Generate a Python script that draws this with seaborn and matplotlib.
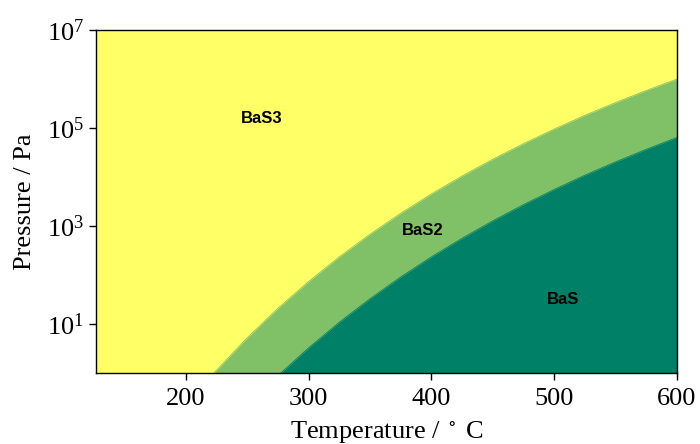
import matplotlib
matplotlib.use("Agg")
import matplotlib as mpl
import matplotlib.pyplot as plt
import numpy as np
import seaborn as sns

# Phase boundaries (temperature in degC, equilibrium S2 pressure in Pa)
t_bas3_bas2 = [223, 250, 275, 300, 325, 350, 375, 400, 425, 450, 475, 500, 525, 550, 575, 600]
p_bas3_bas2 = [1.0, 5.2, 20.8, 73.5, 234, 679, 1815, 4510, 1.05e4, 2.31e4, 4.80e4,
               9.53e4, 1.82e5, 3.32e5, 5.86e5, 1.0e6]

t_bas2_bas = [277.5, 300, 325, 350, 375, 400, 425, 450, 475, 500, 525, 550, 575, 600]
p_bas2_bas = [1.0, 3.24, 10.8, 32.7, 90.8, 234, 562, 1274, 2729, 5570, 1.09e4,
              2.04e4, 3.68e4, 6.43e4]

phases = ["BaS3", "BaS2", "BaS"]
label_t = [262, 393, 507]
label_p = [1.6e5, 800, 31]

t_range = [126.85, 600]
p_range = [1, 1e7]

sns.set_theme(style="ticks")
plt.rcParams["font.family"] = ["Liberation Serif", "DejaVu Serif"]
plt.rcParams["mathtext.fontset"] = "stix"

cmap = mpl.colormaps["summer"]
colors = {"BaS3": cmap(1.0), "BaS2": cmap(0.5), "BaS": cmap(0.0)}

fig = plt.figure(figsize=(7.0, 4.44), dpi=100)
ax = fig.add_axes([0.137, 0.160, 0.830, 0.772])
ax.set_yscale("log")

# sulfur-rich phase fills the whole field, lower sulfides are layered beneath
ax.set_facecolor(colors["BaS3"])
ax.fill_between(t_bas3_bas2, 0.1, p_bas3_bas2, color=colors["BaS2"], lw=0)
ax.fill_between(t_bas2_bas, 0.1, p_bas2_bas, color=colors["BaS"], lw=0)
sns.lineplot(x=t_bas3_bas2, y=p_bas3_bas2, ax=ax, color=colors["BaS2"], lw=0.6)
sns.lineplot(x=t_bas2_bas, y=p_bas2_bas, ax=ax, color=colors["BaS"], lw=0.6)

for name, t, p in zip(phases, label_t, label_p):
    ax.text(t, p, name, ha="center", va="center", fontsize=12, fontweight="bold",
            family=["Liberation Sans", "DejaVu Sans"], color="black")

ax.set_xlim(*t_range)
ax.set_ylim(*p_range)
ax.set_xticks([200, 300, 400, 500, 600])
ax.set_yticks([1e1, 1e3, 1e5, 1e7])
ax.yaxis.set_major_formatter(mpl.ticker.LogFormatterMathtext())
ax.yaxis.set_minor_locator(mpl.ticker.NullLocator())
ax.tick_params(axis="both", which="major", labelsize=19, length=5, width=1,
               direction="out", color="black", labelcolor="black")
ax.tick_params(axis="x", pad=6)
for s in ax.spines.values():
    s.set_color("black")
    s.set_linewidth(1.0)
ax.grid(False)

ax.set_xlabel("Temperature / $^\\circ$ C", fontsize=19, color="black", labelpad=6)
ax.set_ylabel("Pressure / Pa", fontsize=19, color="black", labelpad=8)

fig.savefig("out.png", dpi=100)
